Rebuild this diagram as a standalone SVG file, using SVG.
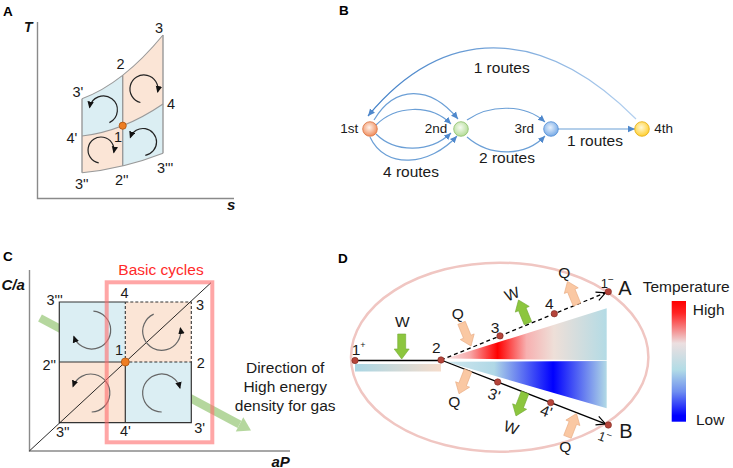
<svg xmlns="http://www.w3.org/2000/svg" width="733" height="468" viewBox="0 0 733 468">
<defs>
  <style>
    text { font-family: "Liberation Sans", Arial, sans-serif; fill: #1a1a1a; }
    .pl { font-size: 13.5px; font-weight: bold; fill: #000; }
    .ax { font-size: 15px; font-weight: bold; font-style: italic; fill: #111; }
    .lbl { font-size: 14.5px; }
    .rt { font-size: 15.5px; }
    .nl { font-size: 13.5px; }
    .dl { font-size: 15.5px; }
    .axis { stroke: #8a8a8a; stroke-width: 1.4; fill: none; }
    .blue { fill: #dbeef3; }
    .peach { fill: #fbe5d6; }
    .bnd { fill: none; stroke: #999; stroke-width: 1.1; }
    .edge { fill: none; stroke: #6b9fd6; stroke-width: 1.2; marker-end: url(#ah-b); }
    .cycA { fill: none; stroke: #222; stroke-width: 1.2; marker-end: url(#ah-k); }
    .cycC { fill: none; stroke: #666; stroke-width: 1.2; marker-end: url(#ah-k); }
    .sq { stroke: #333; stroke-width: 1.2; fill: none; }
    .sqd { stroke: #333; stroke-width: 1.1; fill: none; stroke-dasharray: 3 2; }
    .dot { fill: #b5443a; stroke: #7a2a22; stroke-width: 0.6; }
    .garr { fill: #8cc63e; stroke: #74a935; stroke-width: 0.6; }
    .parr { fill: #fac8a3; stroke: #e9ab82; stroke-width: 0.6; }
  </style>
  <marker id="ah-b" markerUnits="userSpaceOnUse" markerWidth="8" markerHeight="8" viewBox="0 0 8 8" refX="7" refY="4" orient="auto"><path d="M0,0.8 L7,4 L0,7.2 Z" fill="#4f88cc"/></marker>
  <marker id="ah-k" markerUnits="userSpaceOnUse" markerWidth="8" markerHeight="8" viewBox="0 0 8 8" refX="6" refY="3.5" orient="auto"><path d="M0,0.3 L7,3.5 L0,6.7 Z" fill="#111"/></marker>
  <marker id="ah-open" markerUnits="userSpaceOnUse" markerWidth="12" markerHeight="12" viewBox="0 0 12 12" refX="10" refY="6" orient="auto"><path d="M1,1.5 L10,6 L1,10.5" fill="none" stroke="#000" stroke-width="1.2" stroke-dasharray="none"/></marker>
  <path id="blk" d="M0,0 L-10,-7.5 L-10,-4 L-25,-4 L-25,4 L-10,4 L-10,7.5 Z"/>
  <linearGradient id="g-arc" gradientUnits="userSpaceOnUse" x1="636" y1="0" x2="368" y2="0">
    <stop offset="0" stop-color="#b3d0ef"/><stop offset="1" stop-color="#3f7ec6"/>
  </linearGradient>
  <radialGradient id="n1" cx="0.45" cy="0.4" r="0.6"><stop offset="0" stop-color="#fff2ea"/><stop offset="1" stop-color="#ef8c5c"/></radialGradient>
  <radialGradient id="n2" cx="0.45" cy="0.4" r="0.6"><stop offset="0" stop-color="#f6fbf1"/><stop offset="1" stop-color="#b4dc98"/></radialGradient>
  <radialGradient id="n3" cx="0.45" cy="0.4" r="0.6"><stop offset="0" stop-color="#e6f0fc"/><stop offset="1" stop-color="#77aae6"/></radialGradient>
  <radialGradient id="n4" cx="0.45" cy="0.4" r="0.6"><stop offset="0" stop-color="#fff8d6"/><stop offset="1" stop-color="#ffcf30"/></radialGradient>
  <linearGradient id="g-bar" x1="0" y1="0" x2="1" y2="0"><stop offset="0" stop-color="#a9d6e4"/><stop offset="1" stop-color="#f6dccb"/></linearGradient>
  <linearGradient id="g-up" gradientUnits="userSpaceOnUse" x1="446" y1="0" x2="607" y2="0">
    <stop offset="0" stop-color="#f8e6e6"/><stop offset="0.15" stop-color="#f7a8a8"/><stop offset="0.32" stop-color="#ff0000"/><stop offset="0.5" stop-color="#f7b0b0"/><stop offset="0.67" stop-color="#eedfd8"/><stop offset="1" stop-color="#b3dbe5"/>
  </linearGradient>
  <linearGradient id="g-lo" gradientUnits="userSpaceOnUse" x1="446" y1="0" x2="607" y2="0">
    <stop offset="0" stop-color="#cfe7ee"/><stop offset="0.3" stop-color="#b0d8e6"/><stop offset="0.665" stop-color="#0000ff"/><stop offset="1" stop-color="#b3dbe5"/>
  </linearGradient>
  <linearGradient id="g-cb" x1="0" y1="0" x2="0" y2="1">
    <stop offset="0" stop-color="#ff0000"/><stop offset="0.1" stop-color="#ff2424"/><stop offset="0.35" stop-color="#ecdfe0"/><stop offset="0.57" stop-color="#b2dce6"/><stop offset="0.75" stop-color="#6f8ff0"/><stop offset="0.95" stop-color="#0000ff"/>
  </linearGradient>
</defs>
<rect width="733" height="468" fill="#fff"/>

<!-- Panel A -->
<g id="panel-a">
  <text class="pl" x="3" y="16">A</text>
  <text class="ax" x="24" y="32" style="font-size:14px">T</text>
  <text class="ax" x="227" y="210" style="font-size:15px">s</text>
  <path class="axis" d="M37.5,22 L37.5,198.5 L234,198.5"/>
  <path class="blue" d="M82,98.7 Q102.45,91.2 122.7,75.3 L122.7,125.7 Q102.45,133.7 82,136 Z"/>
  <path class="peach" d="M122.7,75.3 Q142.95,59.4 163,35 L163,104 Q142.95,117.7 122.7,125.7 Z"/>
  <path class="peach" d="M82,136 Q102.45,133.7 122.7,125.7 L122.7,166 Q102.45,170.85 82,172.7 Z"/>
  <path class="blue" d="M122.7,125.7 Q142.95,117.7 163,104 L163,153.3 Q142.95,161.15 122.7,166 Z"/>
  <path class="bnd" d="M82,98.7 Q122.9,83.75 163,35"/>
  <path class="bnd" d="M82,136 Q122.9,131.4 163,104"/>
  <path class="bnd" d="M82,172.7 Q122.9,169 163,153.3"/>
  <path class="bnd" d="M82,98.7 L82,172.7 M122.7,75.3 L122.7,166 M163,35 L163,153.3" style="stroke-width:1.4"/>
  <path class="cycA" d="M109.4,122.6 A14,14 0 1 0 89.6,107.5"/>
  <path class="cycA" d="M140.4,102.5 A14,14 0 1 1 157.6,92"/>
  <path class="cycA" d="M98.7,162.8 A13,13 0 1 1 113.8,152.5"/>
  <path class="cycA" d="M145.3,155.3 A13.5,13.5 0 1 0 130.3,137.5"/>
  <circle cx="122.7" cy="125.7" r="3.6" fill="#ee7d22" stroke="#a9520f" stroke-width="0.8"/>
  <text class="lbl" x="155" y="33">3</text>
  <text class="lbl" x="116.5" y="69.3">2</text>
  <text class="lbl" x="72.5" y="97.3">3'</text>
  <text class="lbl" x="167" y="109.3">4</text>
  <text class="lbl" x="66.5" y="143.3">4'</text>
  <text class="lbl" x="114" y="141.7">1</text>
  <text class="lbl" x="75" y="189.3">3''</text>
  <text class="lbl" x="115" y="185">2''</text>
  <text class="lbl" x="157" y="173.3">3'''</text>
</g>

<!-- Panel B -->
<g id="panel-b">
  <text class="pl" x="339" y="15">B</text>
  <g id="connectors-b">
    <path class="edge" d="M636,119 C549,32 449.7,18 368,116" style="stroke:url(#g-arc)"/>
    <path class="edge" d="M374,120 C395,85 430,85 458,119"/>
    <path class="edge" d="M376,125 C395,106 430,103 451,124"/>
    <path class="edge" d="M376,134 C395,153 430,153 451,133"/>
    <path class="edge" d="M370,137 C385,170 430,166 457,136"/>
    <path class="edge" d="M467,120 C490,104 525,104 545,122"/>
    <path class="edge" d="M467,137 C490,157 525,157 545,136"/>
    <path class="edge" d="M558,129 L635,129"/>
  </g>
  <g id="node-1st"><circle cx="370" cy="129" r="7.3" fill="url(#n1)" stroke="#d9713f" stroke-width="0.8"/><text class="nl" x="358.3" y="132.7" text-anchor="end">1st</text></g>
  <g id="node-2nd"><circle cx="461" cy="129" r="7.3" fill="url(#n2)" stroke="#8cbf6a" stroke-width="0.8"/><text class="nl" x="447.3" y="132.7" text-anchor="end">2nd</text></g>
  <g id="node-3rd"><circle cx="551" cy="129" r="7.3" fill="url(#n3)" stroke="#4f8bd4" stroke-width="0.8"/><text class="nl" x="534" y="132.7" text-anchor="end">3rd</text></g>
  <g id="node-4th"><circle cx="642" cy="129" r="7.3" fill="url(#n4)" stroke="#e3ab0e" stroke-width="0.8"/><text class="nl" x="654.3" y="132.7">4th</text></g>
  <text class="rt" x="501.7" y="73" text-anchor="middle">1 routes</text>
  <text class="rt" x="411" y="177" text-anchor="middle">4 routes</text>
  <text class="rt" x="507" y="163" text-anchor="middle">2 routes</text>
  <text class="rt" x="595" y="146" text-anchor="middle">1 routes</text>
</g>

<!-- Panel C -->
<g id="panel-c">
  <text class="pl" x="3" y="261">C</text>
  <text class="ax" x="1.5" y="290">C/a</text>
  <text class="ax" x="271.5" y="466.5">aP</text>
  <path class="axis" d="M29.5,270 L29.5,451 L290,451"/>
  <g id="green-arrow" opacity="0.85">
    <line x1="40" y1="318" x2="239.5" y2="424.4" stroke="#a9d18e" stroke-width="8"/>
    <polygon points="251,430.5 235.8,431.4 243.3,417.3" fill="#a9d18e"/>
  </g>
  <rect class="blue" x="59.3" y="302" width="66" height="60"/>
  <rect class="peach" x="125.3" y="302" width="66" height="60"/>
  <rect class="peach" x="59.3" y="362" width="66" height="60.7"/>
  <rect class="blue" x="125.3" y="362" width="66" height="60.7"/>
  <path class="sq" d="M125.3,302 L59.3,302 L59.3,422.7 L191.3,422.7 L191.3,362 M59.3,362 L125.3,362 M125.3,362 L125.3,422.7"/>
  <path class="sqd" d="M125.3,302 L191.3,302 L191.3,362 L125.3,362 L125.3,302"/>
  <line x1="29.3" y1="451" x2="211" y2="282.7" stroke="#111" stroke-width="0.9"/>
  <path class="cycC" d="M93.4,311.1 A19,19 0 1 1 73.8,336.5"/>
  <path class="cycC" d="M153.7,314.1 A19,19 0 1 0 180.4,328"/>
  <path class="cycC" d="M91.7,412 A19,19 0 1 0 73,386.5"/>
  <path class="cycC" d="M161.7,412 A19,19 0 1 1 180,388.1"/>
  <circle cx="125.3" cy="362" r="4" fill="#ee7d22" stroke="#a9520f" stroke-width="0.8"/>
  <rect x="106.7" y="282.3" width="105.6" height="160" fill="none" stroke="#ff6b6b" stroke-opacity="0.6" stroke-width="4"/>
  <text class="rt" x="161" y="275" text-anchor="middle" style="fill:#ff2a2a">Basic cycles</text>
  <text class="lbl" x="46.5" y="305">3'''</text>
  <text class="lbl" x="120.5" y="298.3">4</text>
  <text class="lbl" x="196" y="310">3</text>
  <text class="lbl" x="115" y="355">1</text>
  <text class="lbl" x="42.5" y="370">2''</text>
  <text class="lbl" x="196.7" y="367.7">2</text>
  <text class="lbl" x="56" y="437.3">3''</text>
  <text class="lbl" x="120" y="436">4'</text>
  <text class="lbl" x="194.3" y="432.7">3'</text>
  <text class="rt" x="285.2" y="372.5" text-anchor="middle">Direction of</text>
  <text class="rt" x="285.2" y="392" text-anchor="middle">High energy</text>
  <text class="rt" x="285.2" y="411" text-anchor="middle">density for gas</text>
</g>

<!-- Panel D -->
<g id="panel-d">
  <text class="pl" x="338" y="262.5">D</text>
  <ellipse cx="499.7" cy="357.2" rx="148.7" ry="94.5" fill="none" stroke="#f0c6c2" stroke-width="2.5"/>
  <rect x="355" y="364" width="86" height="7.5" fill="url(#g-bar)"/>
  <polygon points="446,358.5 606.7,308.3 606.7,360.3" fill="url(#g-up)"/>
  <polygon points="446,361.8 606.7,361 606.7,408.3" fill="url(#g-lo)"/>
  <g id="connectors-d">
    <line x1="355" y1="360.5" x2="441" y2="360.5" stroke="#000" stroke-width="1.3"/>
    <line x1="441" y1="360" x2="605.5" y2="292.8" stroke="#000" stroke-width="1.3" stroke-dasharray="4 3" marker-end="url(#ah-open)"/>
    <line x1="441" y1="360" x2="605.5" y2="423.9" stroke="#000" stroke-width="1.3" marker-end="url(#ah-open)"/>
  </g>
  <use href="#blk" class="garr" transform="translate(401.7,359) rotate(90)"/>
  <use href="#blk" class="parr" transform="translate(471,346) rotate(67.8)"/>
  <use href="#blk" class="garr" transform="translate(518.5,300) rotate(-112.2)"/>
  <use href="#blk" class="parr" transform="translate(567.5,281.4) rotate(-112.2)"/>
  <use href="#blk" class="parr" transform="translate(459,393.8) rotate(111.2)"/>
  <use href="#blk" class="garr" transform="translate(516,415.9) rotate(111.2)"/>
  <use href="#blk" class="parr" transform="translate(576.5,413.5) rotate(-68.8)"/>
  <g id="pt-1plus"><circle class="dot" cx="355" cy="360.5" r="3.2"/></g>
  <g id="pt-2"><circle class="dot" cx="441" cy="360" r="3.2"/></g>
  <g id="pt-3"><circle class="dot" cx="500" cy="335.9" r="3.2"/></g>
  <g id="pt-4"><circle class="dot" cx="554.3" cy="313.7" r="3.2"/></g>
  <g id="pt-A"><circle class="dot" cx="608.3" cy="291.7" r="3.2"/></g>
  <g id="pt-3p"><circle class="dot" cx="497.7" cy="382" r="3.2"/></g>
  <g id="pt-4p"><circle class="dot" cx="550.7" cy="402.6" r="3.2"/></g>
  <g id="pt-B"><circle class="dot" cx="608.3" cy="425" r="3.2"/></g>
  <text class="dl" x="351.7" y="355">1<tspan font-size="9" dy="-7">+</tspan></text>
  <text class="dl" x="432" y="353">2</text>
  <text class="dl" x="490.7" y="332.7">3</text>
  <text class="dl" x="545" y="309.3">4</text>
  <text class="dl" x="395" y="326.7">W</text>
  <text class="dl" x="451.7" y="318.5">Q</text>
  <text class="dl" x="512" y="299.5" text-anchor="middle" transform="rotate(-22 512 294)">W</text>
  <text class="dl" x="558.3" y="278">Q</text>
  <text x="600.7" y="288.3" style="font-size:13px">1<tspan font-size="10" dy="-5">−</tspan></text>
  <text x="618.3" y="295" style="font-size:20px">A</text>
  <text x="619.3" y="438.3" style="font-size:20px">B</text>
  <text x="598.3" y="441.7" style="font-size:13px" transform="rotate(20 604 437)">1<tspan font-size="10" dy="-5">−</tspan></text>
  <text class="dl" x="494" y="400" text-anchor="middle" transform="rotate(20 494 395)">3'</text>
  <text class="dl" x="546" y="416.7" text-anchor="middle" transform="rotate(20 546 412)">4'</text>
  <text class="dl" x="448.3" y="407">Q</text>
  <text class="dl" x="511" y="433" text-anchor="middle" transform="rotate(20 511 428)">W</text>
  <text class="dl" x="559.3" y="452">Q</text>
  <g id="legend">
    <text class="dl" x="642.7" y="292">Temperature</text>
    <rect x="671.7" y="301" width="14.3" height="120.7" fill="url(#g-cb)"/>
    <text class="dl" x="692.7" y="315">High</text>
    <text class="dl" x="696" y="425">Low</text>
  </g>
</g>
</svg>
